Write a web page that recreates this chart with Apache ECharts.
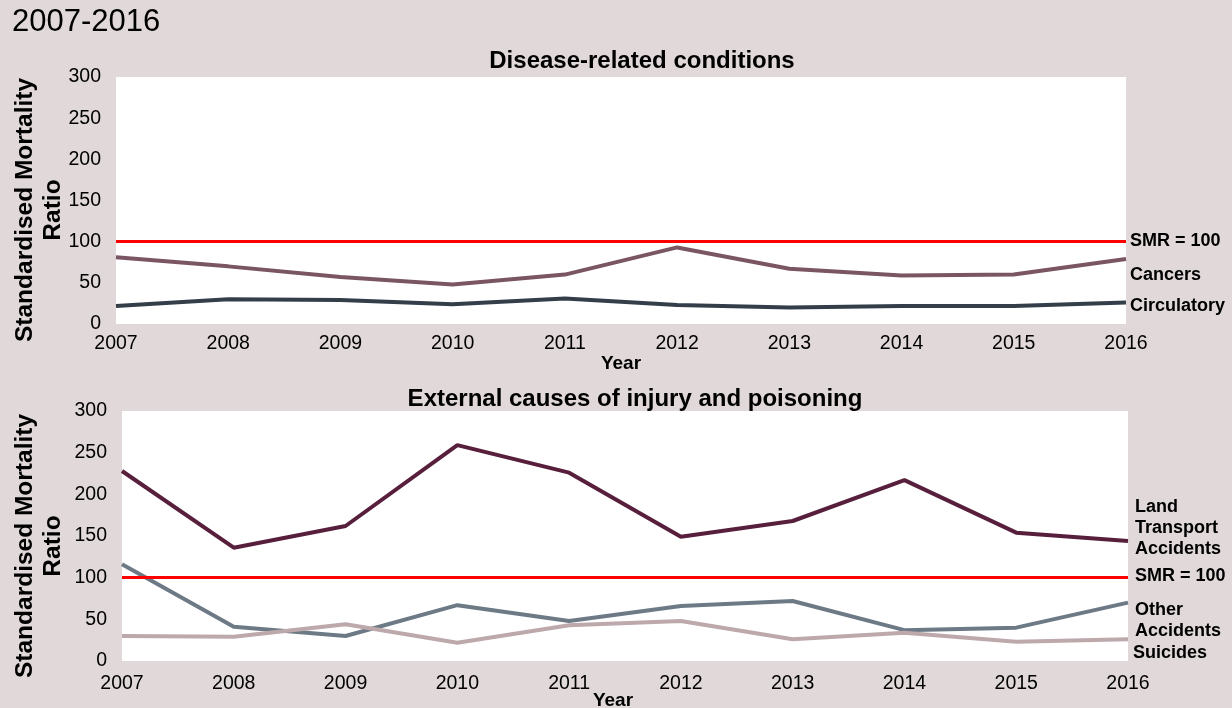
<!DOCTYPE html>
<html>
<head>
<meta charset="utf-8">
<script src="https://cdn.jsdelivr.net/npm/echarts@6/dist/echarts.min.js"></script>
<style>
html,body{margin:0;padding:0;background:#e0d8d9;}
#c{width:1232px;height:708px;}
</style>
</head>
<body>
<div id="c"></div>
<script>
const years = ['2007','2008','2009','2010','2011','2012','2013','2014','2015','2016'];
const cancers = [81, 70, 57, 48, 60, 93, 67, 59, 60, 79];
const circulatory = [22, 30, 29, 24, 31, 23, 20, 22, 22, 26];
const landTransport = [228, 136, 162, 259, 226, 149, 168, 217, 154, 144];
const otherAccidents = [116, 41, 30, 67, 48, 66, 72, 37, 40, 70];
const suicides = [30, 29, 44, 22, 43, 48, 26, 34, 23, 26];
const smrLevel = 100;
const yTicks = [0, 50, 100, 150, 200, 250, 300];
const yName = 'Standardised Mortality\nRatio';

const FONT = '"Liberation Sans", Arial, sans-serif';
const chart = echarts.init(document.getElementById('c'));

function xAxis(gi, pad, margin, gap) {
  return {
    type: 'category', gridIndex: gi, data: years, boundaryGap: false,
    axisLine: {show: false}, axisTick: {show: false}, splitLine: {show: false},
    axisLabel: {color: '#000', fontSize: 19.5, fontFamily: FONT, margin: margin},
    name: 'Year', nameLocation: 'middle', nameGap: gap, nameMoveOverlap: false,
    nameTextStyle: {color: '#000', fontSize: 19, fontWeight: 'bold', fontFamily: FONT, padding: pad}
  };
}
function yAxis(gi) {
  return {
    type: 'value', gridIndex: gi, min: yTicks[0], max: yTicks[yTicks.length-1], interval: 50,
    axisLine: {show: false}, axisTick: {show: false}, splitLine: {show: false},
    axisLabel: {color: '#000', fontSize: 19.5, fontFamily: FONT, margin: 15}
  };
}
function line(name, data, color, xi, extra) {
  return Object.assign({
    name, type: 'line', data, xAxisIndex: xi, yAxisIndex: xi,
    symbol: 'none', lineStyle: {color, width: 4}, itemStyle: {color}, z: 3, silent: true
  }, extra || {});
}
const smrMark = {
  markLine: {
    silent: true, symbol: 'none', label: {show: false},
    lineStyle: {color: '#ff0000', width: 3, type: 'solid'},
    data: [{yAxis: smrLevel}]
  }
};
function lbl(x, y, text) {
  return {type: 'text', left: x, top: y, z: 10,
    style: {text, fill: '#000', font: 'bold 18px ' + FONT, lineHeight: 21}};
}
function vName(cx, cy) {
  return {type: 'text', x: cx, y: cy, rotation: Math.PI / 2, z: 10,
    style: {text: yName, fill: '#000', font: 'bold 24.5px ' + FONT, lineHeight: 28.5,
      align: 'center', verticalAlign: 'middle'}};
}

chart.setOption({
  backgroundColor: '#e0d8d9',
  animation: false,
  title: [
    {text: '2007-2016', left: 7, top: 2, textStyle: {fontSize: 31, fontWeight: 'normal', color: '#000', fontFamily: FONT}},
    {text: 'Disease-related conditions', left: 637, textAlign: 'center', top: 44, textStyle: {fontSize: 24, fontWeight: 'bold', color: '#000', fontFamily: FONT}},
    {text: 'External causes of injury and poisoning', left: 630, textAlign: 'center', top: 382, textStyle: {fontSize: 24, fontWeight: 'bold', color: '#000', fontFamily: FONT}}
  ],
  grid: [
    {left: 116, right: 106, top: 77, height: 247, show: true, backgroundColor: '#fff', borderWidth: 0, containLabel: false, outerBoundsMode: 'none'},
    {left: 122, right: 104, top: 411, height: 250, show: true, backgroundColor: '#fff', borderWidth: 0, containLabel: false, outerBoundsMode: 'none'}
  ],
  xAxis: [xAxis(0, [0, 0, 0, 0], 10, 30), xAxis(1, [0, 24, 0, 0], 13, 30)],
  yAxis: [yAxis(0), yAxis(1)],
  series: [
    line('Cancers', cancers, '#7a5563', 0, smrMark),
    line('Circulatory', circulatory, '#333e48', 0),
    line('Land Transport Accidents', landTransport, '#571f3b', 1, smrMark),
    line('Other Accidents', otherAccidents, '#6d7a86', 1),
    line('Suicides', suicides, '#bda8ac', 1)
  ],
  graphic: [
    vName(39, 210),
    vName(39, 546),
    lbl(1130, 231, 'SMR = 100'),
    lbl(1130, 265, 'Cancers'),
    lbl(1130, 296, 'Circulatory'),
    lbl(1135, 497, 'Land\nTransport\nAccidents'),
    lbl(1135, 566, 'SMR = 100'),
    lbl(1135, 600, 'Other\nAccidents'),
    lbl(1133, 643, 'Suicides')
  ]
});
</script>
</body>
</html>
